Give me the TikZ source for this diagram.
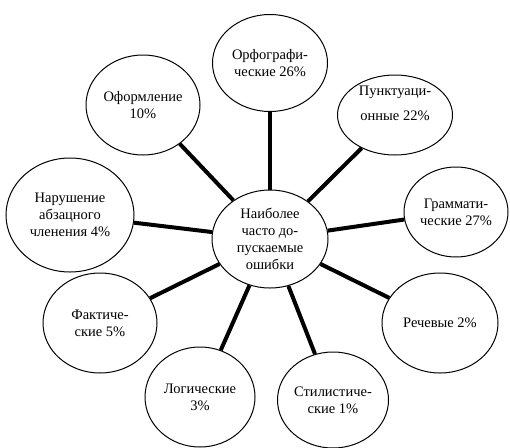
\documentclass[tikz,border=0pt]{standalone}
\usepackage{fontspec}
\setmainfont{Liberation Serif}
\usetikzlibrary{shapes.geometric}
\begin{document}
\begin{tikzpicture}[x=1pt,y=-1pt,
  bub/.style={draw, ellipse, line width=1pt, inner sep=0pt, align=center,
    font=\fontsize{14.5}{17}\selectfont},
  link/.style={line width=4pt}]
\useasboundingbox (0,0) rectangle (510,447);
\node[bub, minimum width=116, minimum height=98] (c) at (270,239) {Наиболее\\часто до-\\пускаемые\\ошибки};
\node[bub, minimum width=115, minimum height=97] (orf) at (270,63) {Орфографи-\\ческие 26\%};
\node[bub, minimum width=115, minimum height=80] (pun) at (395,115) {};
\node[font=\fontsize{14.5}{25}\selectfont, align=center] (punt) at (395,103) {Пунктуаци-\\онные 22\%};
\node[bub, minimum width=104, minimum height=90] (gra) at (456,212) {Граммати-\\ческие 27\%};
\node[bub, minimum width=116, minimum height=100] (rec) at (440,323) {Речевые 2\%};
\node[bub, minimum width=111, minimum height=96] (sti) at (333,400) {Стилистиче-\\ские 1\%};
\node[bub, minimum width=110, minimum height=100] (log) at (200,397) {Логические\\3\%};
\node[bub, minimum width=114, minimum height=100] (fak) at (100,323) {Фактиче-\\ские 5\%};
\node[bub, minimum width=128, minimum height=114] (nar) at (70,215) {Нарушение\\абзацного\\членения 4\%};
\node[bub, minimum width=114, minimum height=100] (ofo) at (143,105) {Оформление\\10\%};
\foreach \n in {orf,pun,gra,rec,sti,log,fak,nar,ofo}
  \draw[link] (c) -- (\n);
\end{tikzpicture}
\end{document}
